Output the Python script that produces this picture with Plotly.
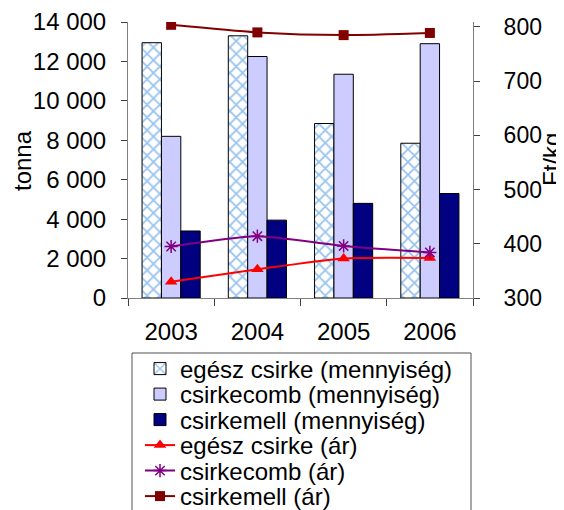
import plotly.graph_objects as go

years = ["2003", "2004", "2005", "2006"]
egesz_menny = [12950, 13300, 8850, 7850]
comb_menny = [8200, 12250, 11350, 12900]
mell_menny = [3400, 3950, 4800, 5300]
egesz_ar = [330, 353, 373, 374]
comb_ar = [395, 414, 396, 384]
mell_ar = [804, 790, 785, 789]
left_ticks = [0, 2000, 4000, 6000, 8000, 10000, 12000, 14000]
right_ticks = [300, 400, 500, 600, 700, 800]
names = ["egész csirke (mennyiség)", "csirkecomb (mennyiség)", "csirkemell (mennyiség)",
         "egész csirke (ár)", "csirkecomb (ár)", "csirkemell (ár)"]

FONT = "Liberation Sans, Arial, sans-serif"
OFF = 8  # page body margin
W, H = 564 - OFF, 510 - OFF
L, R, T, B = 128, 473, 22, 298  # plot area in window pixels

def px_x(x):
    return (x - L) / (R - L)

def px_y(y):
    return (B - y) / (B - T)

fig = go.Figure()
fig.add_trace(go.Bar(x=years, y=egesz_menny, name=names[0], legend="legend",
                     marker=dict(color="white", line=dict(color="black", width=1),
                                 pattern=dict(shape="x", fgcolor="#2f86e0", bgcolor="white",
                                              size=9, solidity=0.35))))
fig.add_trace(go.Bar(x=years, y=comb_menny, name=names[1], legend="legend2",
                     marker=dict(color="#ccccff", line=dict(color="black", width=1))))
fig.add_trace(go.Bar(x=years, y=mell_menny, name=names[2], legend="legend3",
                     marker=dict(color="#000080", line=dict(color="black", width=1))))
fig.add_trace(go.Scatter(x=years, y=egesz_ar, name=names[3], yaxis="y2", legend="legend4",
                         mode="lines+markers", line=dict(color="#ff0000", width=2, shape="spline", smoothing=0.6),
                         marker=dict(symbol="triangle-up", size=11, color="#ff0000")))
fig.add_trace(go.Scatter(x=years, y=comb_ar, name=names[4], yaxis="y2", legend="legend5",
                         mode="lines+markers", line=dict(color="#800080", width=2, shape="spline", smoothing=0.6),
                         marker=dict(symbol="asterisk-open", size=11, color="#800080",
                                     line=dict(color="#800080", width=1.5))))
fig.add_trace(go.Scatter(x=years, y=mell_ar, name=names[5], yaxis="y2", legend="legend6",
                         mode="lines+markers", line=dict(color="#800000", width=2, shape="spline", smoothing=0.6),
                         marker=dict(symbol="square", size=10, color="#800000")))

row_centers = [369, 394.5, 420, 445.5, 471, 496.5]
legend_layout = {}
for i, yc in enumerate(row_centers):
    key = "legend" if i == 0 else f"legend{i+1}"
    legend_layout[key] = dict(x=px_x(140), y=px_y(yc), xanchor="left", yanchor="middle",
                              bgcolor="rgba(0,0,0,0)", borderwidth=0,
                              font=dict(family=FONT, size=24, color="black"))

fig.update_layout(
    width=W, height=H,
    margin=dict(l=L - OFF, r=564 - R, t=T - OFF, b=510 - B, pad=0, autoexpand=False),
    paper_bgcolor="white", plot_bgcolor="white",
    font=dict(family=FONT, size=24, color="black"),
    separators=", ",
    barmode="group", bargap=0.326, bargroupgap=0,
    showlegend=True,
    xaxis=dict(showline=True, linecolor="#808080", linewidth=1, ticks="outside", ticklen=7,
               tickcolor="#404040", tickson="boundaries", showgrid=False, ticklabelstandoff=12,
               tickfont=dict(size=24), automargin=False),
    yaxis=dict(range=[0, 14000], tickvals=left_ticks, tickformat=",d", showline=True,
               linecolor="#808080", linewidth=1, ticks="outside", ticklen=6, tickcolor="#404040",
               showgrid=False, zeroline=False, ticklabelstandoff=10, tickfont=dict(size=24),
               automargin=False),
    yaxis2=dict(range=[300, 809.2], tickvals=right_ticks, overlaying="y", side="right",
                showline=True, linecolor="#808080", linewidth=1, ticks="outside", ticklen=6,
                tickcolor="#404040", showgrid=False, zeroline=False, ticklabelstandoff=19,
                tickfont=dict(size=23), automargin=False),
    annotations=[
        dict(text="tonna", x=px_x(22), y=0.5, xref="paper", yref="paper", textangle=-90,
             showarrow=False, font=dict(size=24), xanchor="center", yanchor="middle"),
        dict(text="Ft/kg", x=px_x(551), y=px_y(160), xref="paper", yref="paper", textangle=-90,
             showarrow=False, font=dict(size=24), xanchor="center", yanchor="middle"),
    ],
    shapes=[dict(type="rect", xref="paper", yref="paper", x0=px_x(132), x1=px_x(471),
                 y0=px_y(353), y1=px_y(530), line=dict(color="#505050", width=1),
                 fillcolor="rgba(0,0,0,0)")],
    **legend_layout,
)

fig.write_html("out.html")
